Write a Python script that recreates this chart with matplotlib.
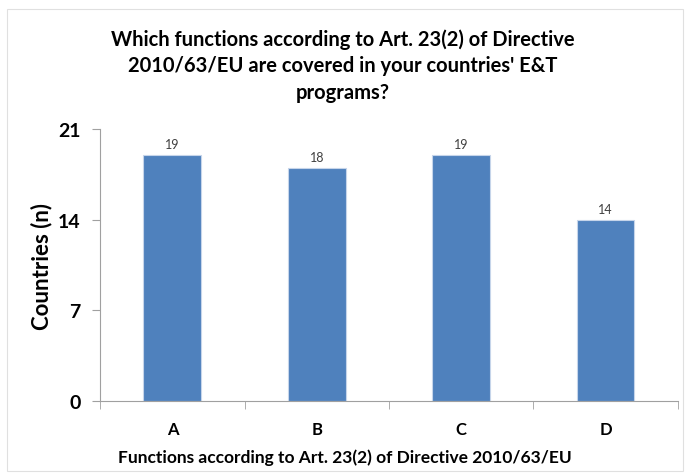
import matplotlib.pyplot as plt
import numpy as np

categories = ['A', 'B', 'C', 'D']
counts = [19, 18, 19, 14]
yticks = [0, 7, 14, 21]

plt.rcParams['font.family'] = ['Lato', 'DejaVu Sans']

fig = plt.figure(figsize=(6.86, 4.77), dpi=100)
ax = fig.add_axes([0.146, 0.157, 0.842, 0.570])

x = np.arange(len(categories))
bars = ax.bar(x, counts, width=0.4, color='#4f81bd', edgecolor='#c6d5ea', linewidth=0.8)
for xi, v in zip(x, counts):
    ax.text(xi, v + 0.4, str(v), ha='center', va='bottom', fontsize=9, color='#404040')

ax.set_xlim(-0.5, len(categories) - 0.5)
ax.set_ylim(0, 21)
ax.set_yticks(yticks)
ax.set_yticklabels([str(t) for t in yticks], fontsize=14, fontweight='bold')
ax.set_xticks(x)
ax.set_xticklabels(categories, fontsize=12, fontweight='bold')
ax.set_xticks(np.arange(len(categories) + 1) - 0.5, minor=True)
ax.tick_params(axis='x', which='major', length=0, pad=14)
ax.tick_params(axis='x', which='minor', length=6, color='#a0a0a0', direction='out')
ax.tick_params(axis='y', length=6, color='#a0a0a0', pad=8)

for side in ['top', 'right']:
    ax.spines[side].set_visible(False)
for side in ['left', 'bottom']:
    ax.spines[side].set_color('#a0a0a0')

ax.set_ylabel('Countries (n)', fontsize=16, fontweight='bold')
ax.yaxis.set_label_coords(-0.083, 0.5)
ax.set_xlabel('Functions according to Art. 23(2) of Directive 2010/63/EU',
              fontsize=12.5, fontweight='bold', labelpad=4)
ax.xaxis.set_label_coords(0.424, -0.175)

fig.text(0.5, 0.862, "Which functions according to Art. 23(2) of Directive\n"
         "2010/63/EU are covered in your countries' E&T\nprograms?",
         ha='center', va='center', fontsize=14.5, fontweight='bold', linespacing=1.4)

fig.patches.append(plt.Rectangle((0.01, 0.01), 0.985, 0.97, transform=fig.transFigure,
                                 fill=False, edgecolor='#e0e0e0', linewidth=0.8))

fig.savefig('out.png', dpi=100)
